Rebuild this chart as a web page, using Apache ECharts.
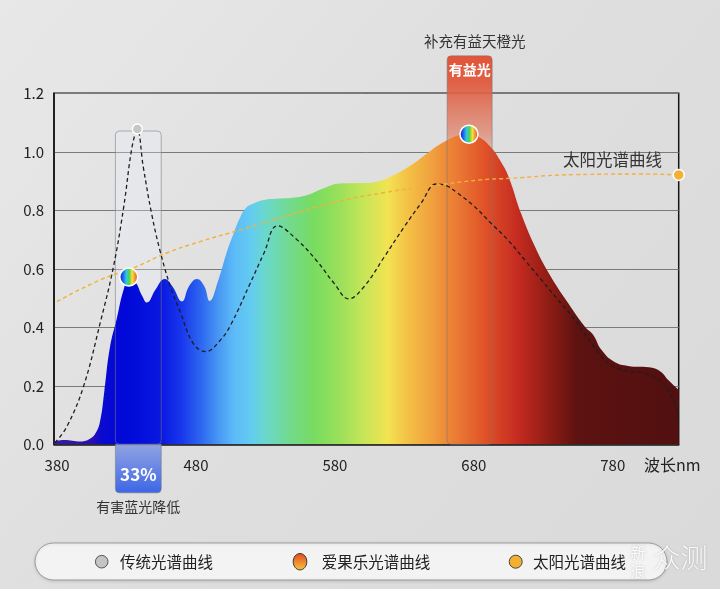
<!DOCTYPE html>
<html><head><meta charset="utf-8">
<script src="https://cdn.jsdelivr.net/npm/echarts@6/dist/echarts.min.js"></script>
<style>html,body{margin:0;padding:0;background:#dfdfdf}#c{width:720px;height:589px}</style>
</head><body><div id="c"></div>
<script>
// ---- data ----
const xTickValues = [380, 480, 580, 680, 780];
const yTickValues = [0, 0.2, 0.4, 0.6, 0.8, 1.0, 1.2];

const aiguoleNm  = [377.8, 385, 397, 404, 408, 411, 414, 418, 423, 428, 431.5, 436, 441, 444.7, 451, 457.5, 463, 469.9, 475, 480.7, 486, 489.8, 496, 502, 507, 512, 516, 521, 529, 540, 553, 562, 570, 584, 600, 610, 620, 635, 649, 661, 670, 676, 684, 692, 699, 705, 714, 724, 734, 748, 760, 766, 772, 781, 791, 806, 814, 820, 827.5];
const aiguoleVal = [0.01, 0.015, 0.01, 0.02, 0.04, 0.08, 0.18, 0.33, 0.43, 0.53, 0.56, 0.555, 0.51, 0.485, 0.53, 0.565, 0.54, 0.488, 0.54, 0.565, 0.54, 0.49, 0.56, 0.654, 0.72, 0.778, 0.808, 0.822, 0.835, 0.84, 0.845, 0.855, 0.872, 0.892, 0.893, 0.898, 0.915, 0.955, 1.004, 1.04, 1.058, 1.063, 1.05, 1.017, 0.97, 0.915, 0.79, 0.676, 0.585, 0.482, 0.402, 0.374, 0.322, 0.282, 0.268, 0.263, 0.25, 0.22, 0.186];

const traditionalNm  = [378.5, 387, 399, 411, 420.6, 428, 434, 437.8, 442, 448, 454, 461.6, 469, 478, 487, 497.7, 505, 519, 529, 538.6, 553, 567.5, 579.5, 590, 601, 615.6, 630, 642, 653, 660, 668, 680, 692.6, 704.7, 716.7, 728.7, 740.8, 752.8, 764.8, 776.8, 788.9, 801, 813, 822.6, 827.5];
const traditionalVal = [0.005, 0.06, 0.197, 0.414, 0.607, 0.812, 1.017, 1.075, 0.95, 0.79, 0.664, 0.539, 0.448, 0.345, 0.317, 0.357, 0.408, 0.55, 0.654, 0.747, 0.698, 0.624, 0.55, 0.497, 0.539, 0.641, 0.744, 0.824, 0.89, 0.885, 0.86, 0.815, 0.755, 0.698, 0.63, 0.562, 0.493, 0.425, 0.345, 0.277, 0.252, 0.245, 0.22, 0.163, 0.083];

const sunNm  = [380, 411, 435, 459, 483, 512, 545, 577, 615, 649, 685, 705, 753, 801, 827.5];
const sunVal = [0.488, 0.562, 0.603, 0.654, 0.693, 0.733, 0.78, 0.824, 0.86, 0.883, 0.904, 0.909, 0.922, 0.924, 0.921];

// highlight markers
const traditionalPeak = [437.8, 1.078];
const rainbowPoints = [[431.6, 0.572], [676.5, 1.06]];
const sunEnd = [827.5, 0.921];

// annotation bands: [nmStart, nmEnd, top, bottom, kind]
const bands = [
  [422, 455, 1.071, 0, 0],
  [422, 455, 0, -0.166, 1],
  [660.8, 693.2, 1.328, 0, 2]
];

const seriesNames = ['传统光谱曲线', '爱果乐光谱曲线', '太阳光谱曲线'];

// ---- chart ----
const chart = echarts.init(document.getElementById('c'), null, {renderer: 'canvas'});
const FONT = '"Noto Sans CJK SC","Noto Sans",sans-serif';
const XMIN = 377.8, XMAX = 827.5;
const off = nm => Math.max(0, Math.min(1, (nm - XMIN) / (XMAX - XMIN)));
const spectrum = [
  [380,'#3a1aa0'],[405,'#2a10b0'],[412,'#0a0ad0'],[430,'#0008d8'],[455,'#0a18e0'],
  [470,'#1838ec'],[485,'#2f6cf0'],[497,'#4a9af4'],[507,'#5cbaf8'],[520,'#64ccf0'],
  [530,'#6ad8cc'],[548,'#72da8c'],[565,'#78dc60'],[585,'#9ee05a'],[600,'#c4e658'],
  [618,'#f2e352'],[632,'#f4c246'],[650,'#f0a03e'],[668,'#ea7a34'],[688,'#e05228'],
  [712,'#c42a20'],[735,'#8c1c14'],[755,'#5c1210'],[827,'#521010']
].map(([nm, c]) => ({offset: off(nm), color: c}));

const rainbow = new echarts.graphic.LinearGradient(0, 0, 1, 0, [
  {offset: 0, color: '#0a1aa8'}, {offset: 0.2, color: '#1e5cf0'},
  {offset: 0.38, color: '#30c8e0'}, {offset: 0.52, color: '#4cd050'},
  {offset: 0.68, color: '#f4e040'}, {offset: 0.84, color: '#f08a30'},
  {offset: 1, color: '#e03a20'}
]);

const zip = (a, b) => a.map((v, i) => [v, b[i]]);

function bandRect(api) {
  const a = api.coord([api.value(0), api.value(2)]);
  const b = api.coord([api.value(1), api.value(3)]);
  return {x: a[0], y: a[1], w: b[0] - a[0], h: b[1] - a[1]};
}

// fills, drawn behind the spectrum area
function renderBandFill(params, api) {
  const kind = api.value(4);
  const {x, y, w, h} = bandRect(api);
  if (kind === 0) {
    return {type: 'rect', shape: {x, y, width: w, height: h, r: 4},
      style: {fill: 'rgba(238,240,250,0.28)'}};
  }
  if (kind === 1) {
    return {type: 'rect', shape: {x, y, width: w, height: h, r: [0, 0, 4, 4]},
      style: {fill: new echarts.graphic.LinearGradient(0, 0, 0, 1, [
        {offset: 0, color: 'rgba(140,160,225,0.95)'}, {offset: 1, color: '#3d66e6'}])}};
  }
  return {type: 'rect', shape: {x, y, width: w, height: h, r: 4},
    style: {fill: new echarts.graphic.LinearGradient(0, 0, 0, 1, [
      {offset: 0, color: 'rgba(226,84,56,1)'}, {offset: 0.07, color: 'rgba(224,90,62,0.95)'},
      {offset: 0.2, color: 'rgba(222,130,105,0.72)'}, {offset: 0.3, color: 'rgba(228,190,180,0.4)'},
      {offset: 0.4, color: 'rgba(235,225,225,0.12)'}, {offset: 1, color: 'rgba(235,235,235,0.05)'}])}};
}

// outlines and texts, drawn over the spectrum area
function renderBandFront(params, api) {
  const kind = api.value(4);
  const {x, y, w, h} = bandRect(api);
  const cx = x + w / 2;
  const border = {type: 'rect', shape: {x, y, width: w, height: h, r: kind === 1 ? [0, 0, 4, 4] : 4},
    style: {fill: 'none', stroke: 'rgba(120,120,125,0.55)', lineWidth: 1}};
  if (kind === 0) return border;
  if (kind === 1) {
    return {type: 'group', children: [
      border,
      {type: 'text', style: {x: cx, y: y + h * 0.63, text: '33%', fill: '#fff',
        font: 'bold 17px ' + FONT, align: 'center', verticalAlign: 'middle'}},
      {type: 'text', style: {x: cx, y: y + h + 14, text: '有害蓝光降低', fill: '#333',
        font: '14px ' + FONT, align: 'center', verticalAlign: 'middle'}}
    ]};
  }
  return {type: 'group', children: [
    border,
    {type: 'text', style: {x: cx, y: y + 14, text: '有益光', fill: '#fff',
      font: 'bold 14px ' + FONT, align: 'center', verticalAlign: 'middle'}},
    {type: 'text', style: {x: cx + 5, y: y - 14, text: '补充有益天橙光', fill: '#333',
      font: '14.5px ' + FONT, align: 'center', verticalAlign: 'middle'}}
  ]};
}

const option = {
  animation: false,
  backgroundColor: new echarts.graphic.LinearGradient(0, 0, 1, 1, [
    {offset: 0, color: '#e8e8e8'}, {offset: 0.5, color: '#dedede'}, {offset: 1, color: '#dadada'}]),
  textStyle: {fontFamily: FONT},
  grid: {left: 54, right: 41.3, top: 93.3, bottom: 144.7, show: true,
    borderColor: '#151515', borderWidth: 1.5, backgroundColor: 'transparent'},
  xAxis: {
    type: 'value', min: XMIN, max: XMAX,
    axisLine: {show: true, lineStyle: {color: '#151515', width: 1.5}},
    axisTick: {show: false},
    splitLine: {show: false},
    axisLabel: {customValues: xTickValues, color: '#222', fontSize: 15, margin: 13, fontFamily: FONT}
  },
  yAxis: {
    type: 'value', min: 0, max: 1.2, interval: 0.2,
    axisLine: {show: true, lineStyle: {color: '#151515', width: 1.5}},
    axisTick: {show: false},
    splitLine: {show: true, lineStyle: {color: '#7a7a7a', width: 1}},
    axisLabel: {color: '#222', fontSize: 15, margin: 10, fontFamily: FONT,
      formatter: v => v.toFixed(1)}
  },
  series: [
    {
      type: 'custom', name: 'bandFill', data: bands, renderItem: renderBandFill, clip: false, z: 1,
      encode: {x: [0, 1], y: [2, 3]}, silent: true
    },
    {
      name: seriesNames[1], type: 'line', data: zip(aiguoleNm, aiguoleVal),
      smooth: 0.45, symbol: 'none', z: 2,
      lineStyle: {width: 0},
      areaStyle: {opacity: 1, color: new echarts.graphic.LinearGradient(0, 0, 1, 0, spectrum)}
    },
    {
      type: 'custom', name: 'bandFront', data: bands, renderItem: renderBandFront, clip: false, z: 3,
      encode: {x: [0, 1], y: [2, 3]}, silent: true
    },
    {
      name: seriesNames[0], type: 'line', data: zip(traditionalNm, traditionalVal),
      smooth: 0.4, symbol: 'none', z: 4,
      lineStyle: {color: '#1e1e1e', width: 1.3, type: [4, 3]}
    },
    {
      name: seriesNames[2], type: 'line', data: zip(sunNm, sunVal),
      smooth: 0.5, symbol: 'none', z: 4,
      lineStyle: {color: '#f2b13a', width: 1.4, type: [4, 3]}
    },
    {
      type: 'scatter', name: 'peak', data: [traditionalPeak], symbolSize: 10, z: 6,
      itemStyle: {color: '#c6c6c6', borderColor: '#fff', borderWidth: 1.5, opacity: 1}
    },
    {
      type: 'scatter', name: 'rainbow', data: rainbowPoints, symbolSize: 18, z: 6,
      itemStyle: {color: rainbow, borderColor: '#fff', borderWidth: 1.5, opacity: 1}
    },
    {
      type: 'scatter', name: 'sunEnd', data: [sunEnd], symbolSize: 11, z: 6, clip: false,
      itemStyle: {color: '#f2b134', borderColor: '#fff', borderWidth: 1.5, opacity: 1}
    }
  ],
  graphic: [
    {type: 'text', left: 644, top: 457, z: 10,
      style: {text: '波长nm', fill: '#222', font: '16px ' + FONT}},
    {type: 'text', left: 563, top: 151, z: 10,
      style: {text: '太阳光谱曲线', fill: '#333', font: '16.5px ' + FONT}},
    // legend capsule
    {type: 'rect', z: 5, shape: {x: 35, y: 543, width: 632, height: 37, r: 18.5},
      style: {fill: '#f3f3f3', stroke: '#9c9c9c', lineWidth: 1,
        shadowBlur: 3, shadowColor: 'rgba(0,0,0,0.12)', shadowOffsetY: 1}},
    {type: 'circle', z: 6, shape: {cx: 101.7, cy: 561.7, r: 6.3},
      style: {fill: '#c4c4c4', stroke: '#555', lineWidth: 1}},
    {type: 'text', z: 6, style: {x: 120, y: 561.7, text: seriesNames[0], fill: '#222',
      font: '15.5px ' + FONT, verticalAlign: 'middle'}},
    {type: 'ellipse', z: 6, shape: {cx: 300, cy: 561.7, rx: 6.8, ry: 8.2},
      style: {fill: new echarts.graphic.LinearGradient(0, 0, 0, 1, [
        {offset: 0, color: '#e3481e'}, {offset: 1, color: '#f6c63e'}]), stroke: '#333', lineWidth: 1}},
    {type: 'text', z: 6, style: {x: 321.7, y: 561.7, text: seriesNames[1], fill: '#222',
      font: '15.5px ' + FONT, verticalAlign: 'middle'}},
    {type: 'circle', z: 6, shape: {cx: 515.7, cy: 561.7, r: 6.5},
      style: {fill: '#f2b030', stroke: '#444', lineWidth: 1}},
    {type: 'text', z: 6, style: {x: 533, y: 561.7, text: seriesNames[2], fill: '#222',
      font: '15.5px ' + FONT, verticalAlign: 'middle'}},
    // watermark
    {type: 'text', z: 7, style: {x: 638, y: 552, text: '新', fill: 'rgba(255,255,255,0.9)',
      font: '15px ' + FONT, align: 'center', verticalAlign: 'middle',
      textShadowColor: 'rgba(0,0,0,0.25)', textShadowBlur: 2}},
    {type: 'text', z: 7, style: {x: 638, y: 571.5, text: '浪', fill: 'rgba(255,255,255,0.9)',
      font: '15px ' + FONT, align: 'center', verticalAlign: 'middle',
      textShadowColor: 'rgba(0,0,0,0.25)', textShadowBlur: 2}},
    {type: 'text', z: 7, style: {x: 680.5, y: 558, text: '众测', fill: 'rgba(255,255,255,0.9)',
      font: '300 27px ' + FONT, align: 'center', verticalAlign: 'middle',
      textShadowColor: 'rgba(0,0,0,0.25)', textShadowBlur: 2}}
  ]
};
chart.setOption(option);
</script></body></html>
